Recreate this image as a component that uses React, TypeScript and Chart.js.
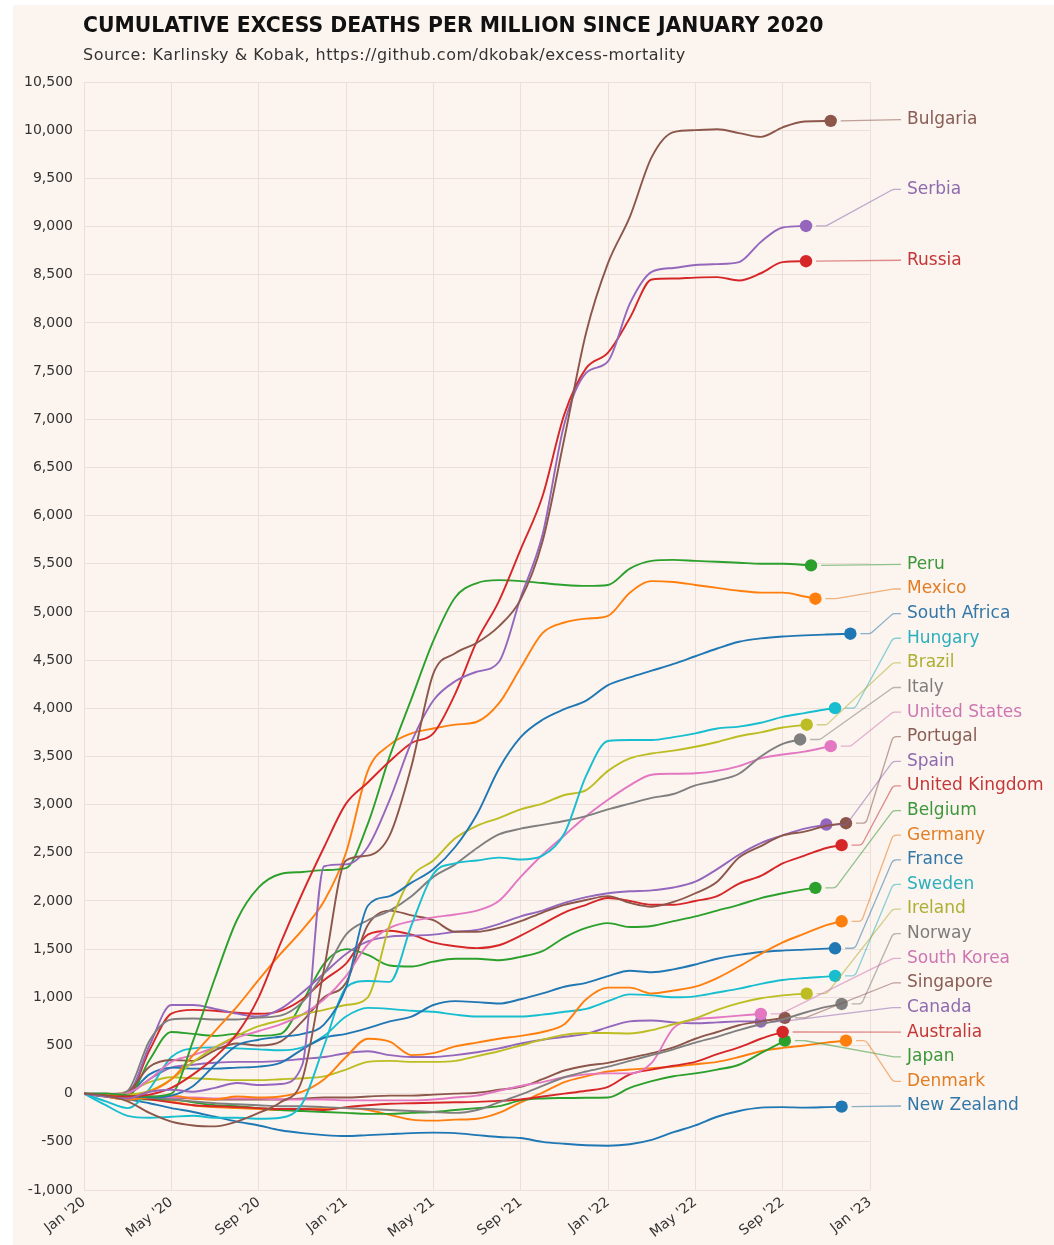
import React, { useEffect, useRef } from 'react';
import { Chart, registerables } from 'chart.js';

Chart.register(...registerables);

const TITLE = 'CUMULATIVE EXCESS DEATHS PER MILLION SINCE JANUARY 2020';
const SUBTITLE = 'Source: Karlinsky & Kobak, https://github.com/dkobak/excess-mortality';

const COUNTRIES = [
  'Bulgaria', 'Serbia', 'Russia', 'Peru', 'Mexico', 'South Africa', 'Hungary', 'Brazil',
  'Italy', 'United States', 'Portugal', 'Spain', 'United Kingdom', 'Belgium', 'Germany',
  'France', 'Sweden', 'Ireland', 'Norway', 'South Korea', 'Singapore', 'Canada',
  'Australia', 'Japan', 'Denmark', 'New Zealand',
];

const PALETTE = ['#8c564b', '#9467bd', '#d62728', '#2ca02c', '#ff7f0e', '#1f77b4', '#17becf', '#bcbd22', '#7f7f7f', '#e377c2'];

const X_TICK_VALUES = [0, 4, 8, 12, 16, 20, 24, 28, 32, 36];
const X_TICK_LABELS = ["Jan '20", "May '20", "Sep '20", "Jan '21", "May '21", "Sep '21", "Jan '22", "May '22", "Sep '22", "Jan '23"];

// months since January 2020
const MONTHS = [0, 1, 2, 3, 4, 5, 6, 7, 8, 9, 10, 11, 12, 13, 14, 15, 16, 17, 18, 19, 20, 21, 22, 23, 24, 25, 26, 27, 28, 29, 30, 31, 32, 33, 34, 35];

const BULGARIA = [0, -20, -80, -200, -290, -330, -340, -290, -200, -90, 150, 1300, 2420, 2470, 2680, 3400, 4360, 4570, 4680, 4850, 5130, 5730, 6800, 7900, 8620, 9100, 9720, 9980, 10000, 10010, 9970, 9930, 10030, 10090];
const SERBIA = [0, -30, -50, 20, 40, 20, 60, 110, 90, 100, 300, 2360, 2380, 2560, 3050, 3650, 4080, 4280, 4380, 4480, 5150, 5800, 6950, 7480, 7600, 8200, 8530, 8570, 8600, 8610, 8630, 8840, 8990];
const RUSSIA = [0, -20, -30, -10, 60, 200, 380, 620, 1000, 1560, 2080, 2560, 3010, 3230, 3450, 3640, 3740, 4150, 4700, 5110, 5650, 6200, 7050, 7530, 7690, 8050, 8450, 8460, 8470, 8475, 8440, 8515, 8630];
const PERU = [0, 0, -20, -30, 0, 550, 1200, 1800, 2140, 2280, 2300, 2320, 2340, 2800, 3500, 4100, 4700, 5150, 5300, 5330, 5320, 5300, 5280, 5270, 5280, 5450, 5530, 5540, 5530, 5520, 5510, 5500, 5500];
const MEXICO = [0, -10, -30, 20, 150, 400, 650, 900, 1180, 1450, 1700, 2000, 2500, 3350, 3620, 3740, 3790, 3830, 3860, 4050, 4420, 4780, 4890, 4930, 4960, 5200, 5320, 5310, 5280, 5250, 5220, 5200, 5200, 5160];
const SOUTH_AFRICA = [0, 0, -20, -40, -20, 80, 300, 500, 560, 590, 620, 720, 1100, 1950, 2050, 2190, 2330, 2560, 2900, 3370, 3700, 3880, 3990, 4080, 4240, 4320, 4390, 4460, 4540, 4620, 4690, 4725, 4745, 4756, 4765];
const HUNGARY = [0, -120, -230, -250, -240, -230, -250, -250, -260, -250, -100, 500, 1100, 1170, 1160, 1750, 2280, 2390, 2420, 2450, 2430, 2470, 2700, 3300, 3660, 3670, 3670, 3700, 3740, 3790, 3810, 3850, 3910, 3950, 3990];
const BRAZIL = [0, 0, -10, 30, 150, 330, 480, 600, 700, 760, 820, 870, 920, 1000, 1750, 2250, 2420, 2650, 2780, 2860, 2950, 3010, 3100, 3150, 3350, 3480, 3530, 3560, 3600, 3650, 3710, 3750, 3800];
const ITALY = [0, -30, 30, 550, 770, 780, 770, 770, 790, 810, 950, 1250, 1650, 1800, 1900, 2050, 2250, 2380, 2550, 2690, 2750, 2790, 2830, 2880, 2950, 3010, 3070, 3110, 3200, 3250, 3320, 3500, 3630];
const UNITED_STATES = [0, 0, 10, 150, 330, 400, 480, 580, 650, 720, 820, 980, 1220, 1550, 1720, 1790, 1830, 1860, 1900, 2000, 2250, 2480, 2680, 2880, 3050, 3200, 3310, 3320, 3325, 3350, 3400, 3480, 3520, 3550];
const PORTUGAL = [0, -20, 20, 280, 350, 340, 450, 520, 500, 540, 750, 1000, 1150, 1750, 1900, 1850, 1800, 1680, 1680, 1720, 1790, 1880, 1960, 2010, 2050, 1980, 1940, 1990, 2080, 2200, 2450, 2570, 2680, 2720, 2780];
const SPAIN = [0, -20, 0, 500, 920, 920, 880, 830, 800, 880, 1050, 1250, 1450, 1580, 1630, 1640, 1650, 1680, 1700, 1760, 1840, 1900, 1980, 2040, 2080, 2100, 2110, 2140, 2200, 2330, 2480, 2600, 2680, 2750];
const UNITED_KINGDOM = [0, -20, -10, 450, 830, 870, 860, 840, 830, 860, 980, 1180, 1350, 1650, 1690, 1650, 1570, 1530, 1510, 1540, 1640, 1760, 1880, 1960, 2030, 2000, 1960, 1960, 2000, 2050, 2180, 2260, 2390, 2470, 2550];
const BELGIUM = [0, -20, -30, 350, 640, 620, 600, 620, 600, 620, 950, 1350, 1500, 1440, 1330, 1320, 1370, 1400, 1400, 1385, 1420, 1480, 1620, 1720, 1770, 1730, 1740, 1790, 1840, 1900, 1960, 2030, 2080, 2120];
const GERMANY = [0, -30, -60, -40, -20, -50, -60, -30, -40, -30, 20, 150, 380, 570, 540, 400, 420, 490, 530, 570, 600, 640, 720, 980, 1100, 1100, 1040, 1070, 1110, 1200, 1320, 1450, 1570, 1660, 1750];
const FRANCE = [0, -20, 0, 200, 270, 260, 260, 270, 280, 320, 460, 580, 620, 680, 750, 800, 920, 960, 950, 935, 980, 1040, 1110, 1150, 1220, 1275, 1260, 1290, 1340, 1400, 1440, 1470, 1485, 1495, 1505];
const SWEDEN = [0, -80, -150, 50, 380, 470, 480, 470, 460, 450, 480, 600, 800, 890, 880, 860, 850, 820, 800, 800, 800, 820, 850, 880, 960, 1030, 1020, 1000, 1010, 1050, 1090, 1140, 1180, 1200, 1215];
const IRELAND = [0, -10, 20, 120, 170, 160, 150, 140, 140, 150, 160, 180, 250, 330, 340, 330, 330, 340, 390, 440, 500, 560, 610, 630, 630, 625, 660, 720, 780, 870, 940, 990, 1020];
const NORWAY = [0, -30, -60, -40, -60, -80, -100, -110, -120, -130, -130, -140, -150, -160, -170, -180, -190, -200, -170, -90, -10, 80, 170, 230, 280, 340, 400, 460, 530, 590, 660, 720, 770, 840, 900];
const SOUTH_KOREA = [0, -10, -20, -30, -40, -40, -50, -50, -50, -60, -60, -60, -70, -70, -70, -70, -60, -40, -20, 30, 80, 120, 170, 200, 210, 210, 320, 680, 770, 790, 810];
const SINGAPORE = [0, -10, -20, -30, -40, -50, -60, -60, -60, -60, -50, -40, -40, -30, -20, -20, -10, 0, 10, 40, 70, 150, 240, 290, 320, 370, 420, 480, 570, 640, 710, 750];
const CANADA = [0, -10, 0, 150, 270, 300, 320, 330, 330, 340, 360, 380, 420, 440, 400, 380, 380, 400, 430, 470, 520, 560, 590, 620, 690, 750, 760, 740, 730, 740, 750];
const AUSTRALIA = [0, -10, -30, -60, -90, -120, -130, -140, -150, -160, -160, -170, -140, -120, -105, -100, -95, -90, -85, -75, -60, -30, 0, 30, 70, 200, 250, 290, 330, 410, 480, 570];
const JAPAN = [0, -20, -50, -60, -60, -90, -120, -130, -150, -170, -180, -190, -200, -210, -210, -200, -190, -170, -150, -130, -70, -50, -45, -42, -40, 60, 130, 180, 210, 250, 300, 420];
const DENMARK = [0, -30, -60, -50, -80, -120, -140, -150, -160, -170, -160, -150, -150, -170, -220, -270, -280, -270, -260, -200, -90, 10, 120, 180, 230, 250, 265, 280, 305, 330, 380, 440, 475, 500, 530];
const NEW_ZEALAND = [0, -20, -60, -100, -150, -190, -240, -290, -330, -380, -410, -430, -440, -430, -420, -410, -405, -410, -430, -450, -460, -500, -520, -535, -540, -525, -480, -400, -330, -240, -180, -145, -140, -145, -140];

// last reported point of each series (month since Jan 2020, value)
const END_MONTH = [34.2, 33.07, 33.07, 33.3, 33.5, 35.1, 34.4, 33.1, 32.8, 34.2, 34.9, 34.0, 34.7, 33.5, 34.7, 34.4, 34.4, 33.1, 34.7, 31.0, 32.1, 31.0, 32.0, 32.1, 34.9, 34.7];
const END_VALUE = [10096, 9006, 8640, 5483, 5137, 4774, 4001, 3829, 3676, 3607, 2807, 2793, 2579, 2136, 1789, 1509, 1222, 1038, 931, 828, 786, 748, 640, 550, 550, -135];

// values at which the three top labels sit
const TOP_LABEL_VALUES = [10110, 9385, 8650];

const SERIES = [
  BULGARIA, SERBIA, RUSSIA, PERU, MEXICO, SOUTH_AFRICA, HUNGARY, BRAZIL, ITALY, UNITED_STATES,
  PORTUGAL, SPAIN, UNITED_KINGDOM, BELGIUM, GERMANY, FRANCE, SWEDEN, IRELAND, NORWAY,
  SOUTH_KOREA, SINGAPORE, CANADA, AUSTRALIA, JAPAN, DENMARK, NEW_ZEALAND,
];

const W = 1054;
const H = 1245;
const FONT = '"DejaVu Sans", Verdana, sans-serif';
const CREAM = '#fcf4ef';

function hexA(hex: string, a: number, dark = 0) {
  const f = 1 - dark;
  const r = Math.round(parseInt(hex.slice(1, 3), 16) * f);
  const g = Math.round(parseInt(hex.slice(3, 5), 16) * f);
  const b = Math.round(parseInt(hex.slice(5, 7), 16) * f);
  return `rgba(${r},${g},${b},${a})`;
}

const decorPlugin = {
  id: 'decor',
  beforeDraw(chart: any) {
    const ctx = chart.ctx;
    ctx.save();
    ctx.fillStyle = '#ffffff';
    ctx.fillRect(0, 0, W, H);
    ctx.fillStyle = CREAM;
    ctx.fillRect(13, 5, W - 13, H - 5);
    ctx.fillStyle = '#111111';
    ctx.font = `bold 20.4px ${FONT}`;
    ctx.textBaseline = 'alphabetic';
    ctx.textAlign = 'left';
    ctx.fillText(TITLE, 83, 32);
    ctx.fillStyle = '#333333';
    ctx.font = `16px ${FONT}`;
    try { (ctx as any).letterSpacing = '0.5px'; } catch (e) { /* ignore */ }
    ctx.fillText(SUBTITLE, 83, 60);
    try { (ctx as any).letterSpacing = '0px'; } catch (e) { /* ignore */ }
    ctx.restore();
  },
  afterDatasetsDraw(chart: any) {
    const ctx = chart.ctx;
    const yScale = chart.scales.y;
    const labelX = 907;
    const lineEnd = 901;
    const clusterStart = yScale.getPixelForValue(END_VALUE[3]) - 1;
    const step = 24.62;
    ctx.save();
    COUNTRIES.forEach((name, i) => {
      const meta = chart.getDatasetMeta(i);
      const pt = meta.data[meta.data.length - 1];
      const px = pt.x;
      const py = pt.y;
      const ly = i < 3 ? yScale.getPixelForValue(TOP_LABEL_VALUES[i]) : clusterStart + (i - 3) * step;
      const color = PALETTE[i % PALETTE.length];
      const sx = px + 10;
      const armA = 10;
      const armB = 8;
      ctx.beginPath();
      ctx.strokeStyle = hexA(color, 0.5, 0.1);
      ctx.lineWidth = 1.3;
      ctx.lineJoin = 'round';
      ctx.moveTo(sx, py);
      if (Math.abs(ly - py) < 1.5) {
        ctx.lineTo(lineEnd, ly);
      } else {
        const ax = sx + armA;
        const bx = lineEnd - armB;
        ctx.arcTo(ax, py, bx, ly, 5);
        ctx.arcTo(bx, ly, lineEnd, ly, 5);
        ctx.lineTo(lineEnd, ly);
      }
      ctx.stroke();
      ctx.fillStyle = hexA(color, 0.9, 0.12);
      ctx.font = `17px ${FONT}`;
      ctx.textAlign = 'left';
      ctx.textBaseline = 'middle';
      ctx.fillText(name, labelX, ly);
    });
    ctx.restore();
  },
};

export default function App() {
  const canvasRef = useRef<HTMLCanvasElement | null>(null);

  useEffect(() => {
    document.body.style.margin = '0';
    const canvas = canvasRef.current;
    if (!canvas) return;

    const datasets = COUNTRIES.map((name, i) => {
      const vals = SERIES[i];
      const pts = vals.map((v, k) => ({ x: MONTHS[k], y: v }));
      pts.push({ x: END_MONTH[i], y: END_VALUE[i] });
      const color = PALETTE[i % PALETTE.length];
      const last = pts.length - 1;
      return {
        label: name,
        data: pts,
        borderColor: color,
        backgroundColor: color,
        borderWidth: 1.9,
        cubicInterpolationMode: 'monotone' as const,
        pointRadius: (c: any) => (c.dataIndex === last ? 6.2 : 0),
        pointBackgroundColor: color,
        pointBorderWidth: 0,
        pointHoverRadius: 0,
        fill: false,
      };
    });

    const chart = new Chart(canvas, {
      type: 'line',
      data: { datasets },
      options: {
        animation: false,
        responsive: false,
        events: [],
        layout: { padding: { top: 82, right: W - 870, bottom: 0, left: 0 } },
        plugins: {
          legend: { display: false },
          tooltip: { enabled: false },
          title: { display: false },
        },
        scales: {
          x: {
            type: 'linear',
            min: 0,
            max: 36,
            afterFit: (s: any) => { s.height = 55; },
            afterBuildTicks: (s: any) => { s.ticks = X_TICK_VALUES.map((v) => ({ value: v })); },
            ticks: {
              autoSkip: false,
              minRotation: 38,
              maxRotation: 38,
              padding: 4,
              color: '#333333',
              font: { family: FONT, size: 14 },
              callback: (v: any) => X_TICK_LABELS[X_TICK_VALUES.indexOf(Number(v))] ?? '',
            },
            grid: { color: '#ecdfda', lineWidth: 1, drawTicks: false },
            border: { display: false },
          },
          y: {
            type: 'linear',
            min: -1000,
            max: 10500,
            afterFit: (s: any) => { s.width = 84; },
            ticks: {
              stepSize: 500,
              padding: 11,
              color: '#333333',
              font: { family: FONT, size: 14 },
              callback: (v: any) => Number(v).toLocaleString('en-US'),
            },
            grid: { color: '#ecdfda', lineWidth: 1, drawTicks: false },
            border: { display: false },
          },
        },
      },
      plugins: [decorPlugin],
    });

    return () => chart.destroy();
  }, []);

  return (
    <div style={{ position: 'relative', width: W, height: H, background: '#ffffff' }}>
      <canvas ref={canvasRef} width={W} height={H} style={{ display: 'block', width: W, height: H }} />
    </div>
  );
}
